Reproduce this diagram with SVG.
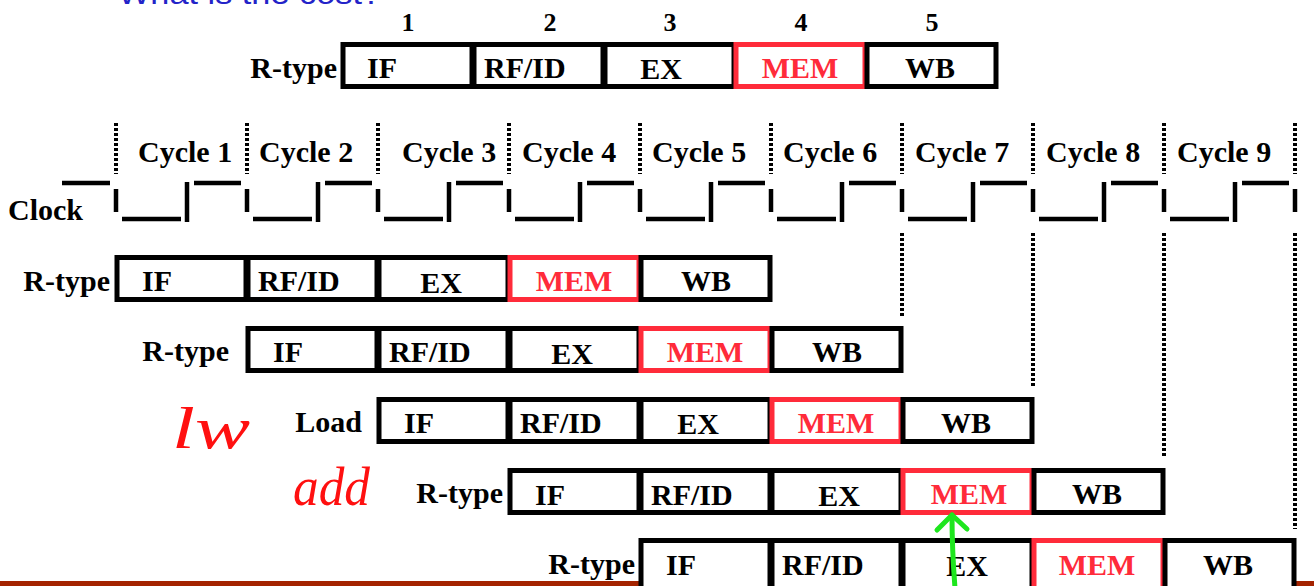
<svg xmlns="http://www.w3.org/2000/svg" width="1314" height="586" viewBox="0 0 1314 586">
<defs>
<style>
.t{font-family:"Liberation Serif","Times New Roman",serif;font-weight:bold;font-size:30px;fill:#000}
.n{font-family:"Liberation Serif","Times New Roman",serif;font-weight:bold;font-size:26px;fill:#000;text-anchor:middle}
.lab{text-anchor:end}
.mid{text-anchor:middle}
.red{fill:#ff2b3a}
.box{fill:#fff;stroke:#000;stroke-width:5}
.mem{fill:#fff;stroke:#ff2b3a;stroke-width:5}
.dot{stroke:#000;stroke-width:4;stroke-dasharray:3 2;fill:none}
.clk{stroke:#000;stroke-width:4.5;fill:none}
.hw{font-family:"Liberation Serif","Times New Roman",serif;font-style:italic;font-weight:normal;fill:#ff1010}
.arrow{stroke:#1ee61e;stroke-width:5;fill:none;stroke-linecap:round;stroke-linejoin:round}
</style>
</defs>
<rect width="1314" height="586" fill="#fff"/>
<text x="118" y="4" font-family="Liberation Sans, Arial, sans-serif" font-size="30" fill="#2323c8" textLength="263" lengthAdjust="spacingAndGlyphs">What is the cost?</text>
<rect x="0" y="581" width="1314" height="5" fill="#a42300"/>

<g id="numbers">
<text class="n" x="408" y="31">1</text>
<text class="n" x="550" y="31">2</text>
<text class="n" x="670" y="31">3</text>
<text class="n" x="801" y="31">4</text>
<text class="n" x="932" y="31">5</text>
</g>

<g id="row0">
<text class="t lab" x="337" y="78">R-type</text>
<g id="row0-IF"><rect class="box" x="343" y="44.5" width="129" height="42"/><text class="t" x="367" y="78">IF</text></g>
<g id="row0-RFID"><rect class="box" x="474" y="44.5" width="129" height="42"/><text class="t" x="484" y="78">RF/ID</text></g>
<g id="row0-EX"><rect class="box" x="605" y="44.5" width="129" height="42"/><text class="t mid" x="661" y="79">EX</text></g>
<g id="row0-MEM"><rect class="mem" x="736" y="44.5" width="129" height="42"/><text class="t mid red" x="800" y="78">MEM</text></g>
<g id="row0-WB"><rect class="box" x="867" y="44.5" width="129" height="42"/><text class="t mid" x="930" y="78">WB</text></g>
</g>

<g id="cycles">
<text class="t" x="138" y="162">Cycle 1</text>
<text class="t" x="259" y="162">Cycle 2</text>
<text class="t" x="402" y="162">Cycle 3</text>
<text class="t" x="522" y="162">Cycle 4</text>
<text class="t" x="652" y="162">Cycle 5</text>
<text class="t" x="783" y="162">Cycle 6</text>
<text class="t" x="915" y="162">Cycle 7</text>
<text class="t" x="1046" y="162">Cycle 8</text>
<text class="t" x="1177" y="162">Cycle 9</text>
<text class="t" x="8" y="220">Clock</text>
</g>

<g id="gridlines">
<path class="dot" d="M116 123V174M247 123V174M378 123V174M509 123V174M640 123V174M771 123V174M902 123V174M1033 123V174M1164 123V174M1295 123V174"/>
<path class="dot" d="M902 233V316M1033 233V387M1164 233V457M1295 233V529"/>
</g>

<g id="clock">
<path class="clk" d="M62 183H110
M116 189V212M122 219H181M187 182V222M194 183H241
M247 189V212M253 219H312M318 182V222M325 183H372
M378 189V212M384 219H443M449 182V222M456 183H503
M509 189V212M515 219H574M580 182V222M587 183H634
M640 189V212M646 219H705M711 182V222M718 183H765
M771 189V212M777 219H836M842 182V222M849 183H896
M902 189V212M908 219H967M973 182V222M980 183H1027
M1033 189V212M1039 219H1098M1104 182V222M1111 183H1158
M1164 189V212M1170 219H1229M1235 182V222M1242 183H1289
M1295 189V212"/>
</g>

<g id="row1">
<text class="t lab" x="110" y="291">R-type</text>
<g id="row1-IF"><rect class="box" x="117" y="257.5" width="129" height="42"/><text class="t" x="142" y="291">IF</text></g>
<g id="row1-RFID"><rect class="box" x="248" y="257.5" width="129" height="42"/><text class="t" x="258" y="291">RF/ID</text></g>
<g id="row1-EX"><rect class="box" x="379" y="257.5" width="129" height="42"/><text class="t mid" x="441" y="293">EX</text></g>
<g id="row1-MEM"><rect class="mem" x="510" y="257.5" width="129" height="42"/><text class="t mid red" x="574" y="291">MEM</text></g>
<g id="row1-WB"><rect class="box" x="641" y="257.5" width="129" height="42"/><text class="t mid" x="706" y="291">WB</text></g>
</g>

<g id="row2">
<text class="t lab" x="229" y="361">R-type</text>
<g id="row2-IF"><rect class="box" x="248" y="328.5" width="129" height="42"/><text class="t" x="273" y="362">IF</text></g>
<g id="row2-RFID"><rect class="box" x="379" y="328.5" width="129" height="42"/><text class="t" x="389" y="362">RF/ID</text></g>
<g id="row2-EX"><rect class="box" x="510" y="328.5" width="129" height="42"/><text class="t mid" x="572" y="364">EX</text></g>
<g id="row2-MEM"><rect class="mem" x="641" y="328.5" width="129" height="42"/><text class="t mid red" x="705" y="362">MEM</text></g>
<g id="row2-WB"><rect class="box" x="772" y="328.5" width="129" height="42"/><text class="t mid" x="837" y="362">WB</text></g>
</g>

<g id="row3">
<text class="t lab" x="362" y="432">Load</text>
<g id="row3-IF"><rect class="box" x="379" y="399.5" width="129" height="42"/><text class="t" x="404" y="433">IF</text></g>
<g id="row3-RFID"><rect class="box" x="510" y="399.5" width="129" height="42"/><text class="t" x="520" y="433">RF/ID</text></g>
<g id="row3-EX"><rect class="box" x="641" y="399.5" width="129" height="42"/><text class="t mid" x="698" y="434">EX</text></g>
<g id="row3-MEM"><rect class="mem" x="772" y="399.5" width="129" height="42"/><text class="t mid red" x="836" y="433">MEM</text></g>
<g id="row3-WB"><rect class="box" x="903" y="399.5" width="129" height="42"/><text class="t mid" x="966" y="433">WB</text></g>
</g>

<g id="row4">
<text class="t lab" x="503" y="503">R-type</text>
<g id="row4-IF"><rect class="box" x="510" y="470.5" width="129" height="42"/><text class="t" x="535" y="505">IF</text></g>
<g id="row4-RFID"><rect class="box" x="641" y="470.5" width="129" height="42"/><text class="t" x="651" y="505">RF/ID</text></g>
<g id="row4-EX"><rect class="box" x="772" y="470.5" width="129" height="42"/><text class="t mid" x="839" y="506">EX</text></g>
<g id="row4-MEM"><rect class="mem" x="903" y="470.5" width="129" height="42"/><text class="t mid red" x="969" y="504">MEM</text></g>
<g id="row4-WB"><rect class="box" x="1034" y="470.5" width="129" height="42"/><text class="t mid" x="1097" y="504">WB</text></g>
</g>

<g id="row5">
<text class="t lab" x="635" y="574">R-type</text>
<g id="row5-IF"><rect class="box" x="641" y="540.5" width="129" height="60"/><text class="t" x="666" y="575">IF</text></g>
<g id="row5-RFID"><rect class="box" x="772" y="540.5" width="129" height="60"/><text class="t" x="782" y="575">RF/ID</text></g>
<g id="row5-EX"><rect class="box" x="903" y="540.5" width="129" height="60"/><text class="t mid" x="967" y="576">EX</text></g>
<g id="row5-MEM"><rect class="mem" x="1034" y="540.5" width="129" height="60"/><text class="t mid red" x="1097" y="575">MEM</text></g>
<g id="row5-WB"><rect class="box" x="1165" y="540.5" width="129" height="60"/><text class="t mid" x="1228" y="575">WB</text></g>
</g>

<g id="annotations">
<text class="hw" x="172" y="448" font-size="60" textLength="78" lengthAdjust="spacingAndGlyphs">lw</text>
<text class="hw" x="293" y="505" font-size="54" textLength="77" lengthAdjust="spacingAndGlyphs">add</text>
</g>

<g id="connectors">
<path class="arrow" d="M955 588Q952 550 952 515"/>
<path class="arrow" d="M937 530L952 515L967 529"/>
</g>
</svg>
